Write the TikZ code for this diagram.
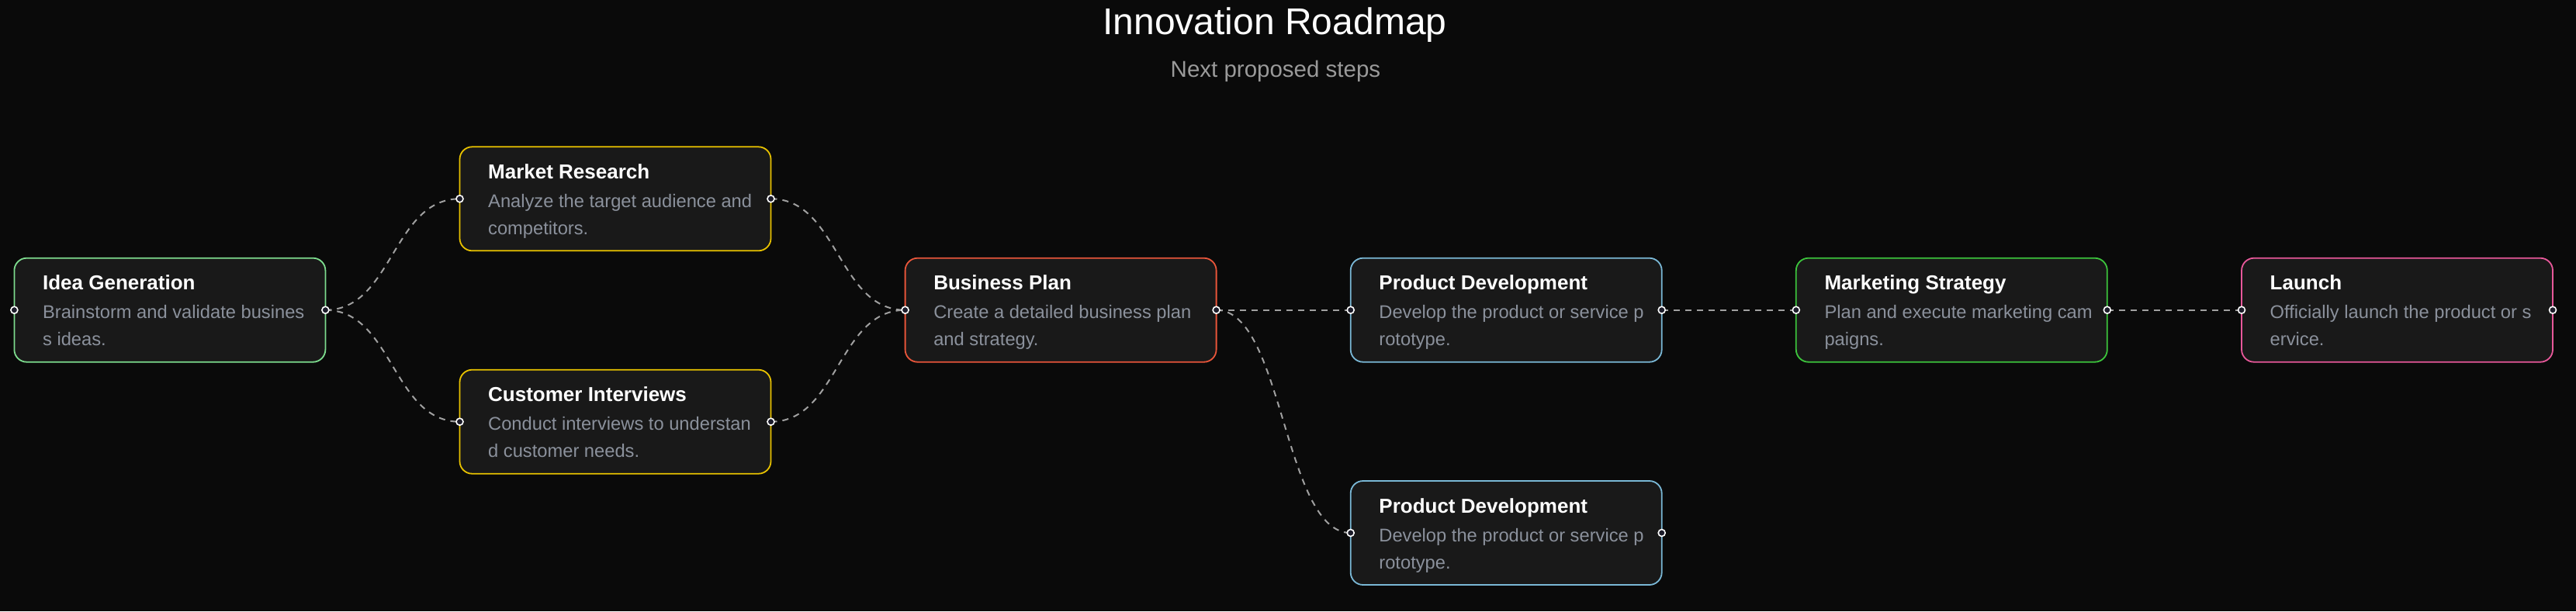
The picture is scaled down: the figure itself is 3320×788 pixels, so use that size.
\documentclass[tikz,border=0pt]{standalone}
\usepackage{fontspec}
\setmainfont{Liberation Sans}
\usetikzlibrary{calc}
\definecolor{bg}{HTML}{0A0A0A}
\definecolor{boxfill}{HTML}{191919}
\definecolor{desccol}{HTML}{8B919C}
\definecolor{subcol}{HTML}{9A9A9A}
\definecolor{conncol}{HTML}{A0A0A0}
\definecolor{portfill}{HTML}{1C1C2A}
\definecolor{cgreenlight}{HTML}{7DDC8E}
\definecolor{cyellow}{HTML}{E8C200}
\definecolor{cred}{HTML}{E8553A}
\definecolor{cblue}{HTML}{7AB8D6}
\definecolor{cgreen}{HTML}{3CC43C}
\definecolor{cpink}{HTML}{E8589A}
\tikzset{
  card/.style={draw=#1, fill=boxfill, line width=1.8pt, rounded corners=16pt,
    minimum width=401pt, minimum height=134pt, inner sep=0pt, outer sep=0pt},
  cardtitle/.style={anchor=base west, inner sep=0pt, text=white,
    font=\fontsize{26}{30}\selectfont\bfseries},
  carddesc/.style={anchor=base west, inner sep=0pt, text=desccol,
    font=\fontsize{23.7}{30}\selectfont},
  port/.style={circle, draw=white, fill=portfill, line width=1.6pt,
    minimum size=9pt, inner sep=0pt},
  link/.style={draw=conncol, line width=2pt, dash pattern=on 8pt off 7pt},
  curvelink/.style={link, out=0, in=180, out distance=86.5pt, in distance=86.5pt},
}
\newcommand\rmcard[7]{%
  \node[card=#4, anchor=north west] (#1) at (#2,#3) {};
  \node[cardtitle] (#1-t) at ($(#1.north west)+(36.5,41)$) {#5};
  \node[carddesc] (#1-d1) at ($(#1.north west)+(36.5,78)$) {#6};
  \node[carddesc] (#1-d2) at ($(#1.north west)+(36.5,113)$) {#7};
}
\begin{document}
\begin{tikzpicture}[x=1pt,y=-1pt]
\fill[bg] (0,0) rectangle (3320,788);
\useasboundingbox (0,0) rectangle (3320,788);

\node[anchor=base, text=white, font=\fontsize{48}{54}\selectfont] (title) at (1643,44) {Innovation Roadmap};
\node[anchor=base, text=subcol, font=\fontsize{29.5}{34}\selectfont] (subtitle) at (1644,99) {Next proposed steps};

\rmcard{idea}{18.4}{332.7}{cgreenlight}{Idea Generation}{Brainstorm and validate busines}{s ideas.}
\rmcard{mr}{592.5}{189.3}{cyellow}{Market Research}{Analyze the target audience and}{competitors.}
\rmcard{ci}{592.5}{476.7}{cyellow}{Customer Interviews}{Conduct interviews to understan}{d customer needs.}
\rmcard{bp}{1166.6}{332.7}{cred}{Business Plan}{Create a detailed business plan}{and strategy.}
\rmcard{pda}{1740.7}{332.7}{cblue}{Product Development}{Develop the product or service p}{rototype.}
\rmcard{pdb}{1740.7}{620}{cblue}{Product Development}{Develop the product or service p}{rototype.}
\rmcard{ms}{2314.8}{332.7}{cgreen}{Marketing Strategy}{Plan and execute marketing cam}{paigns.}
\rmcard{la}{2889}{332.7}{cpink}{Launch}{Officially launch the product or s}{ervice.}

\draw[curvelink] (idea.east) to (mr.west);
\draw[curvelink] (idea.east) to (ci.west);
\draw[curvelink] (mr.east) to (bp.west);
\draw[curvelink] (ci.east) to (bp.west);
\draw[link] (bp.east) -- (pda.west);
\draw[curvelink] (bp.east) to (pdb.west);
\draw[link] (pda.east) -- (ms.west);
\draw[link] (ms.east) -- (la.west);

\foreach \n in {idea,mr,ci,bp,pda,pdb,ms,la} {
  \node[port] (\n-l) at (\n.west) {};
  \node[port] (\n-r) at (\n.east) {};
}
\end{tikzpicture}
\end{document}
